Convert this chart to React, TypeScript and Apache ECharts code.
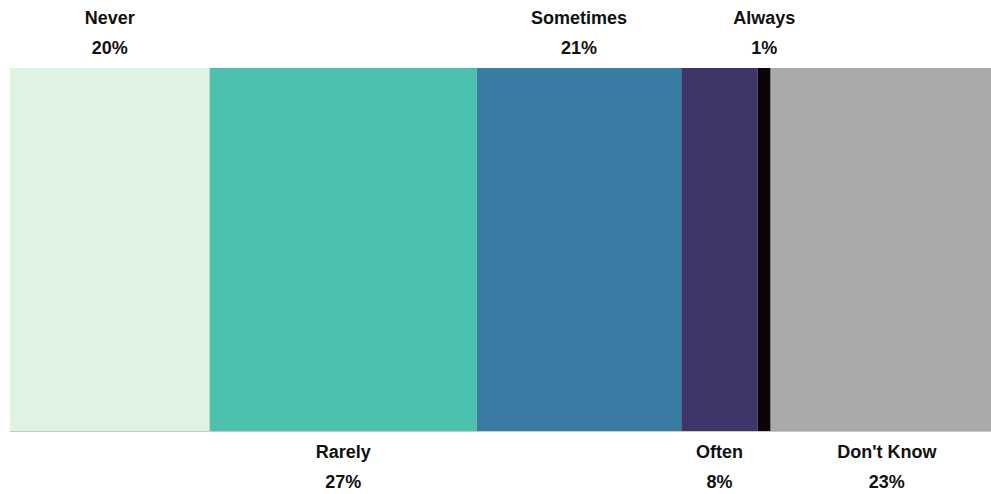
import React, { useEffect, useRef } from "react";
import * as echarts from "echarts";

const categories = ["Never", "Rarely", "Sometimes", "Often", "Always", "Don't Know"];
const values = [20.1, 26.9, 20.6, 7.7, 1.3, 23.4];
const colors = ["#dff3e4", "#4cc2ae", "#387ca3", "#3f3568", "#0d0408", "#aaaaaa"];
const labelSides = ["top", "bottom", "top", "bottom", "top", "bottom"];

export default function App() {
  const ref = useRef<HTMLDivElement>(null);
  useEffect(() => {
    if (!ref.current) return;
    const chart = echarts.init(ref.current, null, { renderer: "svg" });
    const font = "'Liberation Sans', Arial, Helvetica, sans-serif";
    chart.setOption({
      animation: false,
      grid: { left: 10, right: 0, top: 68, bottom: 63, containLabel: false },
      xAxis: {
        type: "value",
        min: 0,
        max: (100 * 981) / 993,
        z: 5,
        axisLine: { show: true, lineStyle: { color: "#c8c8c8", width: 1 } },
        axisTick: { show: false },
        axisLabel: { show: false },
        splitLine: { show: false },
      },
      yAxis: {
        type: "category",
        data: ["Response"],
        axisLine: { show: false },
        axisTick: { show: false },
        axisLabel: { show: false },
      },
      series: categories.map((name, i) => ({
        name,
        type: "bar",
        stack: "total",
        barWidth: "100%",
        clip: false,
        data: [values[i]],
        itemStyle: { color: colors[i] },
        label: {
          show: true,
          position: labelSides[i],
          distance: labelSides[i] === "top" ? 5 : 6,
          formatter: () => `{n|${name}}\n{p|${Math.round(values[i])}%}`,
          rich: {
            n: { fontFamily: font, fontWeight: "bold", fontSize: 18, color: "#111", lineHeight: 30 },
            p: { fontFamily: font, fontWeight: "bold", fontSize: 18, color: "#111", lineHeight: 30 },
          },
        },
      })),
    });
    return () => chart.dispose();
  }, []);
  return <div ref={ref} style={{ width: 991, height: 494, position: "absolute", left: 0, top: 0 }} />;
}
